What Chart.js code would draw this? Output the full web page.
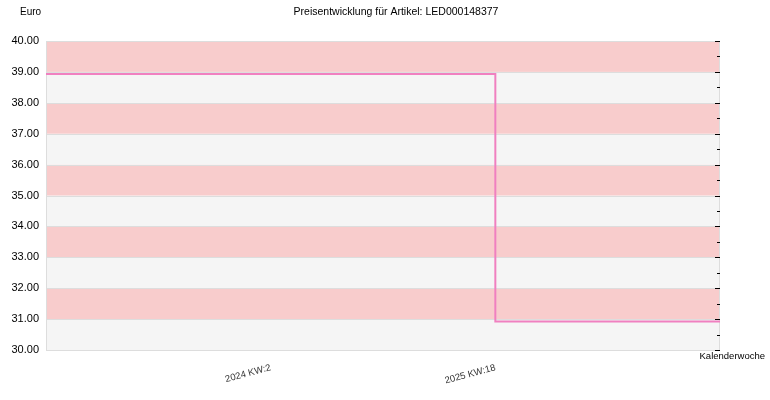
<!DOCTYPE html>
<html>
<head>
<meta charset="utf-8">
<script src="https://cdn.jsdelivr.net/npm/chart.js@4"></script>
<style>
  html, body { margin: 0; padding: 0; background: #fff; }
  #wrap { width: 770px; height: 400px; }
</style>
</head>
<body>
<div id="wrap"><canvas id="grafico" width="770" height="400"></canvas></div>
<script>
// datos del gráfico
const kalenderwochen = ["", "2024 KW:2", "2025 KW:18", ""];
const preise = [38.93, 38.93, 30.92, 30.92];
const yMin = 30;
const yMax = 40;

const titel = "Preisentwicklung für Artikel: LED000148377";
const fuente = "'Liberation Sans', Arial, sans-serif";

// bandas alternas, marcas a la derecha y textos sueltos
const fondoPlugin = {
  id: "fondo",
  beforeDatasetsDraw(chart) {
    const { ctx, chartArea, scales } = chart;
    const y = scales.y;
    ctx.save();
    for (let v = yMin; v < yMax; v++) {
      const top = y.getPixelForValue(v + 1);
      const bottom = y.getPixelForValue(v);
      ctx.fillStyle = (v - yMin) % 2 === 0 ? "#f5f5f5" : "#f8cccc";
      ctx.fillRect(chartArea.left, top, chartArea.right - chartArea.left, bottom - top);
    }
    // lineas de la grilla
    ctx.strokeStyle = "#dddddd";
    ctx.lineWidth = 1;
    for (let v = yMin; v <= yMax; v++) {
      const py = Math.round(y.getPixelForValue(v)) + 0.5;
      ctx.beginPath();
      ctx.moveTo(chartArea.left, py);
      ctx.lineTo(chartArea.right, py);
      ctx.stroke();
    }
    // borde
    ctx.strokeRect(chartArea.left + 0.5, chartArea.top + 0.5,
      chartArea.right - chartArea.left - 1, chartArea.bottom - chartArea.top);
    ctx.restore();
  },
  afterDatasetsDraw(chart) {
    const { ctx, chartArea, scales } = chart;
    const y = scales.y;
    ctx.save();
    ctx.strokeStyle = "#000";
    ctx.lineWidth = 1;
    for (let v = yMin; v <= yMax; v += 0.5) {
      const py = Math.round(y.getPixelForValue(v)) + 0.5;
      const len = Number.isInteger(v) ? 5 : 3;
      ctx.beginPath();
      ctx.moveTo(chartArea.right - len, py);
      ctx.lineTo(chartArea.right, py);
      ctx.stroke();
    }
    ctx.fillStyle = "#000";
    ctx.textBaseline = "middle";
    ctx.textAlign = "center";
    ctx.font = "10.5px " + fuente;
    ctx.fillText(titel, 396, 12);
    ctx.textAlign = "left";
    ctx.font = "10px " + fuente;
    ctx.fillText("Euro", 20, 12);
    ctx.textAlign = "right";
    ctx.font = "9.5px " + fuente;
    ctx.fillText("Kalenderwoche", 765, 356);
    ctx.restore();
  },
};

const ctx = document.getElementById("grafico");

const chart = new Chart(ctx, {
  type: "line",
  data: {
    labels: kalenderwochen,
    datasets: [
      {
        label: "Preis",
        data: preise,
        stepped: true,
        borderColor: "#f080c0",
        borderWidth: 2,
        pointRadius: 0,
        fill: false,
      },
    ],
  },
  options: {
    responsive: false,
    animation: false,
    layout: { padding: { top: 41, right: 50, left: 0, bottom: 0 } },
    plugins: {
      legend: { display: false },
      title: { display: false },
      tooltip: { enabled: false },
    },
    scales: {
      x: {
        offset: false,
        grid: { display: false, drawTicks: false },
        border: { display: false },
        ticks: {
          autoSkip: false,
          minRotation: 15,
          maxRotation: 15,
          padding: 12,
          color: "#333",
          font: { family: fuente, size: 9.5 },
        },
        afterFit(scale) {
          scale.height = 50;
        },
      },
      y: {
        min: yMin,
        max: yMax,
        grid: { display: false, drawTicks: false },
        border: { display: false },
        ticks: {
          stepSize: 1,
          padding: 7,
          color: "#000",
          font: { family: fuente, size: 11 },
          callback: (v) => Number(v).toFixed(2),
        },
        afterFit(scale) {
          scale.width = 46;
        },
      },
    },
  },
  plugins: [fondoPlugin],
});
</script>
</body>
</html>
